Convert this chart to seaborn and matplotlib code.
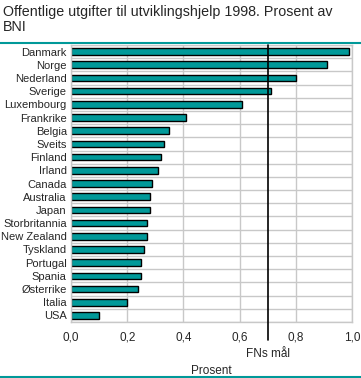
import matplotlib
matplotlib.use('Agg')
import matplotlib.pyplot as plt
import pandas as pd
import seaborn as sns
from matplotlib.lines import Line2D

sns.set_style('white')
plt.rcParams['font.family'] = ['Liberation Sans', 'DejaVu Sans']

# Data (percent of GNI, 1998)
countries = ['Danmark', 'Norge', 'Nederland', 'Sverige', 'Luxembourg', 'Frankrike',
             'Belgia', 'Sveits', 'Finland', 'Irland', 'Canada', 'Australia', 'Japan',
             'Storbritannia', 'New Zealand', 'Tyskland', 'Portugal', 'Spania',
             'Østerrike', 'Italia', 'USA']
values = [0.99, 0.91, 0.80, 0.71, 0.61, 0.41, 0.35, 0.33, 0.32, 0.31, 0.29, 0.28,
          0.28, 0.27, 0.27, 0.26, 0.25, 0.25, 0.24, 0.20, 0.10]
xticks = [0.0, 0.2, 0.4, 0.6, 0.8, 1.0]
xtick_labels = ['0,0', '0,2', '0,4', '0,6', '0,8', '1,0']
fn_goal = 0.7

df = pd.DataFrame({'land': countries, 'verdi': values})

teal = '#009999'
grid = '#c8c8c8'

fig = plt.figure(figsize=(3.61, 3.78), dpi=100)
ax = fig.add_axes([71 / 361, 56 / 378, 281 / 361, 277 / 378])

sns.barplot(data=df, x='verdi', y='land', orient='h', color=teal, saturation=1,
            width=0.5, edgecolor='black', linewidth=1, ax=ax)

ax.set_xlim(0, 1.0)
ax.set_ylim(len(countries) - 0.5, -0.5)
ax.set_xticks(xticks)
ax.set_xticklabels(xtick_labels, fontsize=8.5)
ax.set_yticks(range(len(countries)))
ax.set_yticklabels(countries, fontsize=8)
ax.set_yticks([i - 0.5 for i in range(len(countries) + 1)], minor=True)
ax.tick_params(axis='both', which='both', length=0)
ax.tick_params(axis='y', pad=3)
ax.tick_params(axis='x', pad=7)
ax.grid(axis='x', which='major', color=grid, linewidth=1)
ax.grid(axis='y', which='minor', color=grid, linewidth=1)
ax.set_axisbelow(True)
for s in ax.spines.values():
    s.set_color(grid)
    s.set_linewidth(1)
ax.set_ylabel('')
ax.set_xlabel('Prosent', fontsize=8.5, labelpad=15)

# UN target line
ax.axvline(fn_goal, ymin=-0.065, ymax=1, color='black', linewidth=1.2, clip_on=False, zorder=5)
ax.text(fn_goal, -0.095, 'FNs mål', transform=ax.get_xaxis_transform(),
        ha='center', va='top', fontsize=8.5)

fig.text(0.008, 0.988, 'Offentlige utgifter til utviklingshjelp 1998. Prosent av\nBNI',
         ha='left', va='top', fontsize=10.3, linespacing=1.1)
fig.add_artist(Line2D([0, 1], [1 - 43 / 378] * 2, color=teal, linewidth=1.5))
fig.add_artist(Line2D([0, 1], [1 - 377 / 378] * 2, color=teal, linewidth=1.5))

fig.savefig('out.png', dpi=100)
